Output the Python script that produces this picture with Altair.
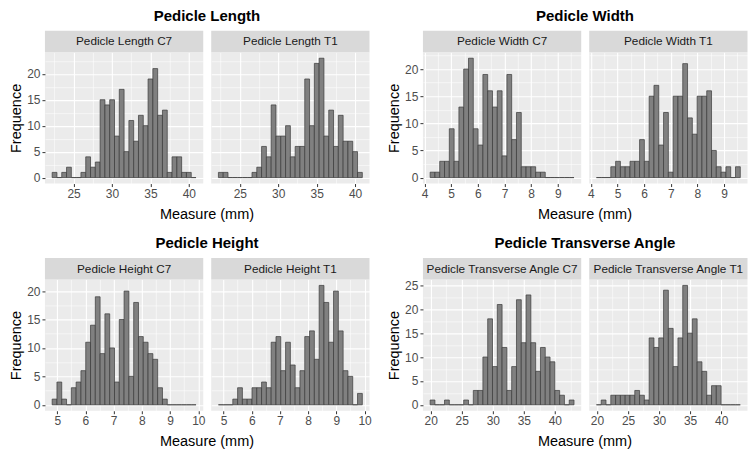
import altair as alt
import pandas as pd

FONT = "Liberation Sans"

# ---- data: 30 histogram bins per measure (shared by C7 / T1)
measures = ["Pedicle Length", "Pedicle Width", "Pedicle Height", "Pedicle Transverse Angle"]
levels = ["C7", "T1"]

length_c7 = [1, 0, 1, 2, 0, 0, 1, 4, 2, 3, 15, 14, 15, 8, 17, 5, 11, 7, 12, 10, 19, 21, 12, 13, 1, 4, 4, 1, 1, 0]
length_t1 = [1, 1, 0, 0, 0, 0, 0, 1, 2, 6, 4, 14, 8, 8, 10, 4, 6, 6, 19, 10, 22, 23, 8, 13, 6, 12, 7, 7, 5, 1]
width_c7 = [1, 1, 3, 3, 9, 3, 13, 20, 22, 9, 6, 19, 16, 13, 16, 4, 19, 7, 12, 2, 2, 2, 1, 1, 0, 0, 0, 0, 0, 0]
width_t1 = [0, 0, 0, 2, 3, 2, 2, 3, 3, 7, 3, 15, 17, 6, 12, 1, 15, 15, 21, 11, 8, 15, 15, 16, 5, 2, 1, 2, 0, 2]
height_c7 = [1, 4, 1, 0, 3, 4, 6, 11, 14, 19, 9, 16, 10, 4, 15, 20, 5, 18, 12, 11, 9, 8, 3, 1, 0, 0, 0, 0, 0, 0]
height_t1 = [0, 0, 0, 1, 3, 1, 1, 3, 3, 4, 3, 11, 12, 6, 11, 7, 3, 6, 12, 13, 8, 21, 18, 11, 20, 13, 6, 5, 0, 2]
angle_c7 = [1, 0, 0, 1, 0, 0, 0, 1, 0, 3, 3, 10, 18, 8, 21, 12, 3, 8, 22, 13, 23, 13, 7, 12, 10, 9, 3, 2, 0, 1]
angle_t1 = [0, 1, 0, 2, 2, 2, 2, 2, 3, 2, 1, 14, 12, 14, 24, 16, 8, 14, 25, 15, 18, 9, 7, 2, 4, 4, 0, 0, 0, 0]

# first bin edge and bin width of each measure
length_bins = (22.21, 0.6245)
width_bins = (4.21, 0.18)
height_bins = (4.82, 0.17)
angle_bins = (19.9, 0.773)

# axis tick values
length_xticks = [25, 30, 35, 40]
width_xticks = [4, 5, 6, 7, 8, 9]
height_xticks = [5, 6, 7, 8, 9, 10]
angle_xticks = [20, 25, 30, 35, 40]
length_yticks = [0, 5, 10, 15, 20]
width_yticks = [0, 5, 10, 15, 20]
height_yticks = [0, 5, 10, 15, 20]
angle_yticks = [0, 5, 10, 15, 20, 25]

x_title = "Measure (mm)"
y_title = "Frequence"

# ---- layout constants
W = 158.5
H = 131.5
GAP = 7.5
SPACER = 37.2
STRIP = 21.5
PANEL_BG = "#EBEBEB"
STRIP_BG = "#D9D9D9"


def with_minor(major, lo, hi):
    step = major[1] - major[0]
    cand = [major[0] - step / 2] + [m + step / 2 for m in major]
    vals = [v for v in major + cand if lo <= v <= hi]
    return sorted(vals), step


def make_axis(values, step, show, title=None):
    test = f"abs(datum.value % {step}) < 1e-6"
    kw = dict(
        values=values,
        grid=True,
        gridColor="white",
        gridWidth={"condition": {"test": test, "value": 1.1}, "value": 0.55},
        domain=False,
        labelOverlap=False,
        labelFlush=False,
        title=title,
    )
    if show:
        kw.update(
            labels=True,
            labelExpr=f"{test} ? format(datum.value, '~g') : ''",
            ticks=True,
            tickSize=3,
            tickWidth=1,
            tickColor="#333333",
            tickOpacity={"condition": {"test": test, "value": 1}, "value": 0},
            labelColor="#4D4D4D",
            labelFontSize=12,
            labelFont=FONT,
            labelPadding=2,
        )
    else:
        kw.update(labels=False, ticks=False)
    if title:
        kw.update(titleFont=FONT, titleFontSize=14.5, titleFontWeight="normal",
                  titleColor="black", titlePadding=3)
    return alt.Axis(**kw)


def group(name, counts_by_level, bins, xticks, yticks):
    b0, bw = bins
    n = len(counts_by_level[0])
    span = n * bw
    xdom = [b0 - 0.05 * span, b0 + span + 0.05 * span]
    ymax = max(max(c) for c in counts_by_level)
    ydom = [-0.05 * ymax, 1.05 * ymax]
    xvals, xstep = with_minor(xticks, *xdom)
    yvals, ystep = with_minor(yticks, *ydom)

    panels = []
    for idx, (level, counts) in enumerate(zip(levels, counts_by_level)):
        first = idx == 0
        df = pd.DataFrame({
            "start": [b0 + i * bw for i in range(n)],
            "end": [b0 + (i + 1) * bw for i in range(n)],
            "count": counts,
            "base": [0] * n,
        })
        bars = alt.Chart(df).mark_rect(fill="#808080", stroke="#3a3a3a", strokeWidth=0.7).encode(
            x=alt.X("start:Q", scale=alt.Scale(domain=xdom, nice=False, zero=False),
                    axis=make_axis(xvals, xstep, True)),
            x2="end:Q",
            y=alt.Y("count:Q", scale=alt.Scale(domain=ydom, nice=False, zero=False),
                    axis=make_axis(yvals, ystep, first, y_title if first else None)),
            y2="base:Q",
        )
        sdf = pd.DataFrame({"label": [f"{name} {level}"]})
        strip_rect = alt.Chart(sdf).mark_rect(fill=STRIP_BG).encode(
            x=alt.value(0), x2=alt.value(W), y=alt.value(-STRIP), y2=alt.value(0))
        strip_text = alt.Chart(sdf).mark_text(font=FONT, fontSize=11.8, color="#1A1A1A").encode(
            text="label:N", x=alt.value(W / 2), y=alt.value(-STRIP / 2))
        layers = [bars, strip_rect, strip_text]
        if first:
            gdf = pd.DataFrame({"t": [name], "xt": [x_title]})
            gtitle = alt.Chart(gdf).mark_text(font=FONT, fontSize=15, fontWeight="bold",
                                              color="black").encode(
                text="t:N", x=alt.value(W + GAP / 2), y=alt.value(-36.5))
            xtitle = alt.Chart(gdf).mark_text(font=FONT, fontSize=14.5, color="black").encode(
                text="xt:N", x=alt.value(W + GAP / 2), y=alt.value(H + 31.5))
            layers += [gtitle, xtitle]
        p = alt.layer(*layers).properties(width=W, height=H,
                                          view=alt.ViewBackground(fill=PANEL_BG))
        panels.append(p)
    return panels


def spacer():
    return alt.Chart(pd.DataFrame({"v": [0]})).mark_point(opacity=0).encode(
        x=alt.value(0), y=alt.value(0)).properties(width=SPACER, height=H)


g_len = group(measures[0], [length_c7, length_t1], length_bins, length_xticks, length_yticks)
g_wid = group(measures[1], [width_c7, width_t1], width_bins, width_xticks, width_yticks)
g_hei = group(measures[2], [height_c7, height_t1], height_bins, height_xticks, height_yticks)
g_ang = group(measures[3], [angle_c7, angle_t1], angle_bins, angle_xticks, angle_yticks)

chart = alt.concat(
    g_len[0], g_len[1], spacer(), g_wid[0], g_wid[1],
    g_hei[0], g_hei[1], spacer(), g_ang[0], g_ang[1],
    columns=5,
    spacing={"row": 95.5, "column": GAP},
    bounds="flush",
).properties(
    padding={"left": 0, "top": 0, "right": 0, "bottom": 0},
    background="white",
).configure(font=FONT).configure_view(stroke=None)

chart.save("out.html", embed_options={"renderer": "svg", "actions": False})
